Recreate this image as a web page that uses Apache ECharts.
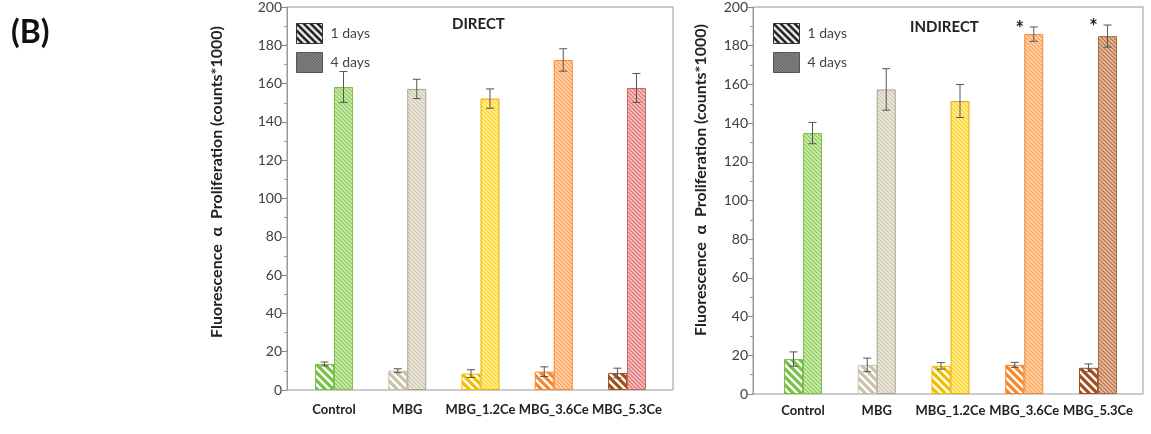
<!DOCTYPE html>
<html><head><meta charset="utf-8">
<script src="https://cdn.jsdelivr.net/npm/echarts@6/dist/echarts.min.js"></script>
<style>html,body{margin:0;padding:0;background:#fff}#c{width:1151px;height:434px}</style>
</head><body><div id="c"></div>
<script>
// ---- data ----
const categories = ['Control', 'MBG', 'MBG_1.2Ce', 'MBG_3.6Ce', 'MBG_5.3Ce'];
const yTicks = [0, 20, 40, 60, 80, 100, 120, 140, 160, 180, 200];
const direct1 = [13.5, 10, 8.5, 9.5, 8.8];
const direct1Err = [1, 1, 2, 2.5, 2.5];
const direct4 = [157, 156, 151, 171, 156.5];
const direct4Err = [8, 5, 5, 5.8, 7.5];
const indirect1 = [18, 15, 14.5, 15, 13.5];
const indirect1Err = [3.7, 3.5, 1.7, 1.3, 2];
const indirect4 = [134.5, 157, 151, 185.5, 184.5];
const indirect4Err = [5.5, 10.7, 8.5, 3.7, 5.7];
const indirectMarks = ['', '', '', '*', '*'];
const seriesNames = ['1 days', '4 days'];
const yName = 'Fluorescence  \u03b1  Proliferation (counts*1000)';

// ---- styles ----
const FONT = 'Lato';
const fg1 = ['#77c043', '#c9c3a6', '#f2bd00', '#f7862a', '#a0501e'];
const fg4Direct = ['#8fcf5a', '#d2ccb4', '#ffd633', '#ffa45c', '#e07a7a'];
const bg4Direct = ['#d8efc4', '#efece2', '#fff0a8', '#ffdcbc', '#f6cccc'];
const bd4Direct = ['#7fbf4a', '#a8a290', '#e6ac00', '#ef8a3a', '#c86464'];
const fg4Indirect = ['#8fcf5a', '#d2ccb4', '#ffd633', '#ffa45c', '#c0784a'];
const bg4Indirect = ['#d8efc4', '#efece2', '#fff0a8', '#ffdcbc', '#e9c7ae'];
const bd4Indirect = ['#7fbf4a', '#a8a290', '#e6ac00', '#ef8a3a', '#a86a40'];

function stripe(bg, fg, s, lw) {
  const c = document.createElement('canvas');
  c.width = c.height = s;
  const x = c.getContext('2d');
  if (bg) { x.fillStyle = bg; x.fillRect(0, 0, s, s); }
  x.strokeStyle = fg; x.lineWidth = lw;
  x.beginPath();
  for (let k = -1; k <= 1; k++) { x.moveTo(-s, -s + k * s); x.lineTo(2 * s, 2 * s + k * s); }
  x.stroke();
  return { image: c, repeat: 'repeat' };
}
const pat1 = (i) => stripe('#ffffff', fg1[i], 8, 3.2);

function barData(vals, makeStyle) {
  return vals.map((v, i) => ({ value: v, itemStyle: makeStyle(i) }));
}

const BW = 19;
function errSeries(xi, vals, errs, side) {
  return {
    type: 'custom', xAxisIndex: xi, yAxisIndex: xi, silent: true, z: 5,
    data: vals.map((v, i) => [i, v, errs[i]]),
    renderItem: function (params, api) {
      const c = api.value(0), v = api.value(1), e = api.value(2);
      const x = api.coord([c, v])[0] + side * BW / 2;
      const yt = api.coord([c, v + e])[1];
      const yb = api.coord([c, v - e])[1];
      const st = { stroke: '#555', lineWidth: 1 };
      return { type: 'group', children: [
        { type: 'line', shape: { x1: x, y1: yt, x2: x, y2: yb }, style: st },
        { type: 'line', shape: { x1: x - 4, y1: yt, x2: x + 4, y2: yt }, style: st },
        { type: 'line', shape: { x1: x - 4, y1: yb, x2: x + 4, y2: yb }, style: st }
      ]};
    }
  };
}

const markIdx = indirectMarks.map((m, i) => i).filter(i => indirectMarks[i]);
const markSeries = {
  type: 'custom', xAxisIndex: 3, yAxisIndex: 3, silent: true, z: 6,
  data: markIdx.map(i => [i, indirect4[i] + indirect4Err[i]]),
  renderItem: function (params, api) {
    const p = api.coord([api.value(0), api.value(1)]);
    return { type: 'text', x: p[0] + BW / 2 - 14, y: p[1] + 3,
      style: { text: indirectMarks[markIdx[params.dataIndex]], fill: '#222', font: 'bold 20px ' + FONT,
        textAlign: 'center', textVerticalAlign: 'middle' } };
  }
};

const legendData = [
  { name: seriesNames[0], itemStyle: { color: stripe('#ffffff', '#111', 7, 2.6), borderColor: '#333', borderWidth: 1 } },
  { name: seriesNames[1], itemStyle: { color: stripe('#bdbdbd', '#333', 3, 1.1), borderColor: '#555', borderWidth: 1 } }
];
function legend(left, top) {
  return { orient: 'vertical', left: left, top: top, itemWidth: 26, itemHeight: 20, itemGap: 8,
    icon: 'rect', selectedMode: false, data: legendData,
    textStyle: { fontFamily: FONT, fontSize: 14, color: '#444', padding: [0, 0, 0, 3] } };
}

function valueAxis(gi, show) {
  return {
    type: 'value', gridIndex: gi, min: 0, max: 200, interval: 20, show: show,
    axisLine: { show: true, lineStyle: { color: '#999' } },
    axisTick: { show: true, length: 5, lineStyle: { color: '#888' } },
    minorTick: { show: true, splitNumber: 2, length: 3, lineStyle: { color: '#999' } },
    splitLine: { show: false },
    axisLabel: { fontFamily: FONT, fontSize: 14, color: '#404040', margin: 5,
      formatter: v => yTicks.indexOf(v) >= 0 ? String(v) : '' }
  };
}
function catAxis(gi, margin) {
  return { type: 'category', gridIndex: gi, data: categories,
    axisLine: { show: false }, axisTick: { show: false },
    axisLabel: { fontFamily: FONT, fontSize: 13, fontWeight: 'bold', color: '#222', margin: margin, interval: 0 } };
}
const hiddenX = (gi) => ({ type: 'value', gridIndex: gi, min: 0, max: 1, show: false });

const chart = echarts.init(document.getElementById('c'), null, { renderer: 'canvas' });
chart.setOption({
  animation: false,
  backgroundColor: '#ffffff',
  title: [
    { text: '(B)', left: 6, top: 12, textStyle: { fontFamily: FONT, fontSize: 32, fontWeight: 'bold', color: '#111' } },
    { text: 'DIRECT', left: 447, top: 12, textStyle: { fontFamily: FONT, fontSize: 15, fontWeight: 'bold', color: '#222' } },
    { text: 'INDIRECT', left: 905, top: 15, textStyle: { fontFamily: FONT, fontSize: 15, fontWeight: 'bold', color: '#222' } }
  ],
  legend: [legend(291, 18), legend(768, 18)],
  grid: [
    { left: 287, top: 4, width: 386, bottom: 44, show: true, borderColor: '#999', borderWidth: 1, backgroundColor: 'transparent' },
    { left: 297.4, top: 4, width: 366.2, bottom: 44 },
    { left: 753, top: 6, width: 390, bottom: 40, show: true, borderColor: '#999', borderWidth: 1, backgroundColor: 'transparent' },
    { left: 766.1, top: 6, width: 368.8, bottom: 40 }
  ],
  xAxis: [hiddenX(0), catAxis(1, 13), hiddenX(2), catAxis(3, 10)],
  yAxis: [valueAxis(0, true), valueAxis(1, false), valueAxis(2, true), valueAxis(3, false)],
  graphic: [
    { type: 'text', x: 217, y: 182, rotation: Math.PI / 2,
      style: { text: yName, font: 'bold 16px ' + FONT, fill: '#222', textAlign: 'center', textVerticalAlign: 'middle' } },
    { type: 'text', x: 701, y: 180, rotation: Math.PI / 2,
      style: { text: yName, font: 'bold 16px ' + FONT, fill: '#222', textAlign: 'center', textVerticalAlign: 'middle' } }
  ],
  series: [
    { name: seriesNames[0], type: 'bar', xAxisIndex: 1, yAxisIndex: 1, barWidth: BW, barGap: '0%',
      itemStyle: { color: '#fff' },
      data: barData(direct1, i => ({ color: pat1(i), borderColor: fg1[i], borderWidth: 1 })) },
    { name: seriesNames[1], type: 'bar', xAxisIndex: 1, yAxisIndex: 1, barWidth: BW, barGap: '0%',
      itemStyle: { color: '#888' },
      data: barData(direct4, i => ({ color: stripe(bg4Direct[i], fg4Direct[i], 4, 1.5), borderColor: bd4Direct[i], borderWidth: 1 })) },
    errSeries(1, direct1, direct1Err, -1),
    errSeries(1, direct4, direct4Err, 1),
    { name: seriesNames[0], type: 'bar', xAxisIndex: 3, yAxisIndex: 3, barWidth: BW, barGap: '0%',
      itemStyle: { color: '#fff' },
      data: barData(indirect1, i => ({ color: pat1(i), borderColor: fg1[i], borderWidth: 1 })) },
    { name: seriesNames[1], type: 'bar', xAxisIndex: 3, yAxisIndex: 3, barWidth: BW, barGap: '0%',
      itemStyle: { color: '#888' },
      data: barData(indirect4, i => ({ color: stripe(bg4Indirect[i], fg4Indirect[i], 4, 1.5), borderColor: bd4Indirect[i], borderWidth: 1 })) },
    errSeries(3, indirect1, indirect1Err, -1),
    errSeries(3, indirect4, indirect4Err, 1),
    markSeries
  ]
});
</script></body></html>
